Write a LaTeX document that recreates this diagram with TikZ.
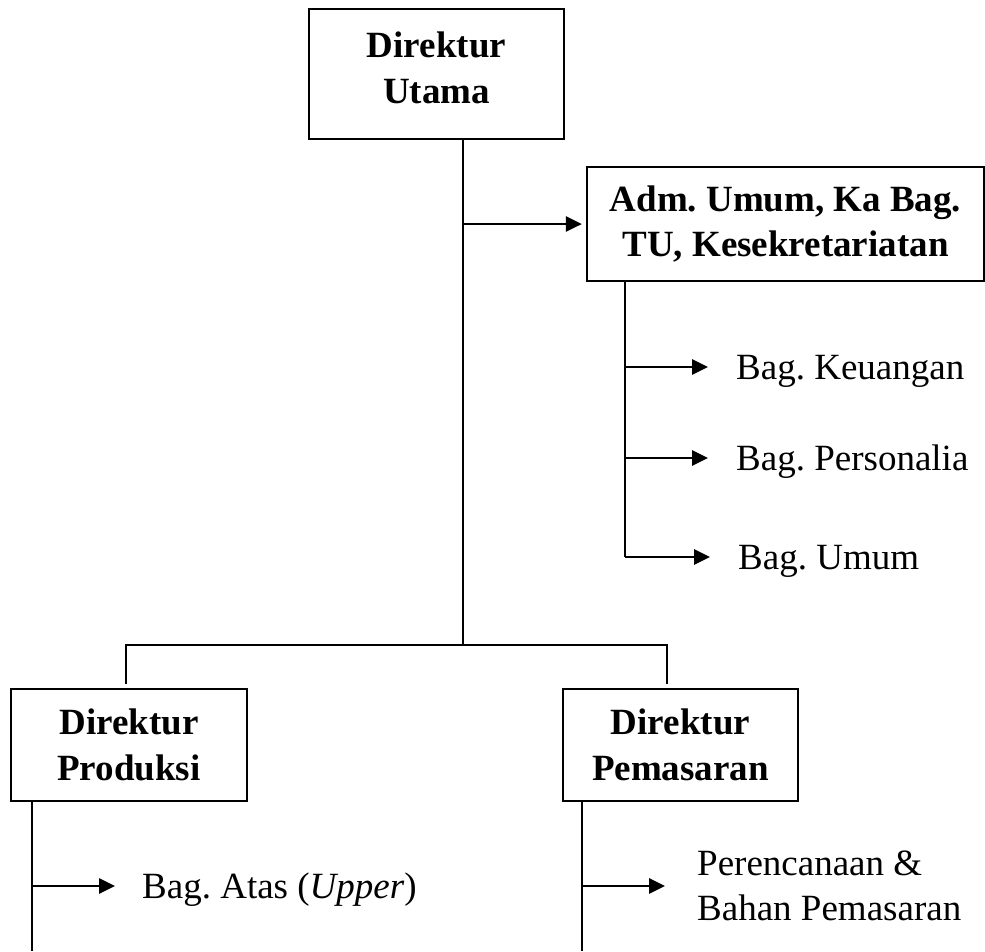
\documentclass[tikz,border=0pt]{standalone}
\usepackage{fontspec}
\setmainfont{Liberation Serif}
\usetikzlibrary{positioning,arrows.meta,calc}

\begin{document}
\frenchspacing
\begin{tikzpicture}[x=1pt,y=-1pt,
    box/.style={draw,line width=2.2pt,align=center,inner sep=0pt,font=\bfseries},
    unit/.style={anchor=west,inner sep=0pt,text height=25pt,text depth=1pt},
    unitdua/.style={anchor=west,inner sep=0pt,align=left},
    garis/.style={line width=1.8pt},
    panah/.style={line width=2.7pt,-{Triangle[length=16pt,width=15pt]},shorten >=28pt}]
  \fontsize{37}{45.5}\selectfont
  \useasboundingbox (0,0) rectangle (985,951);
  % Kotak jabatan
  \node[box,minimum width=255pt,minimum height=130pt,text depth=13pt] (dirut) at (436.5,74) {Direktur\\Utama};
  \node[box,minimum width=397pt,minimum height=114pt] (adm) at (785.5,224) {Adm. Umum, Ka Bag.\\TU, Kesekretariatan};
  \node[box,minimum width=236pt,minimum height=112pt] (prod) at (129,745) {Direktur\\Produksi};
  \node[box,minimum width=235pt,minimum height=112pt] (pem) at (680.5,745) {Direktur\\Pemasaran};
  % Bagian di bawahnya
  \node[unit] (keu) at (736,367) {Bag. Keuangan};
  \node[unit] (pers) at (736,458) {Bag. Personalia};
  \node[unit] (umum) at (738,557) {Bag. Umum};
  \node[unit] (atas) at (142,886) {Bag. Atas (\textit{Upper})};
  \node[unitdua] (renc) at (697,886) {Perencanaan \&\\Bahan Pemasaran};
  % Titik bantu garis
  \coordinate (cabang) at (463,645);
  \coordinate (kiri) at (126,684);
  \coordinate (kanan) at (667,684);
  \coordinate (admx) at (625,557);
  \coordinate (prodx) at (32,951);
  \coordinate (pemx) at (582,951);
  % Garis hubung
  \draw[garis] (dirut.south -| cabang) -- (cabang);
  \draw[garis] (kiri) |- (cabang) -| (kanan);
  \draw[panah,shorten >=4pt] (cabang |- adm.west) -- (adm.west);
  \draw[garis] (adm.south -| admx) -- (admx);
  \foreach \u in {keu,pers,umum}{
    \draw[panah] (\u.west -| admx) -- (\u.west);
  }
  \draw[garis] (prod.south -| prodx) -- (prodx);
  \draw[panah,shorten >=27pt] (atas.west -| prodx) -- (atas.west);
  \draw[garis] (pem.south -| pemx) -- (pemx);
  \draw[panah,shorten >=32pt] (renc.west -| pemx) -- (renc.west);
\end{tikzpicture}
\end{document}
